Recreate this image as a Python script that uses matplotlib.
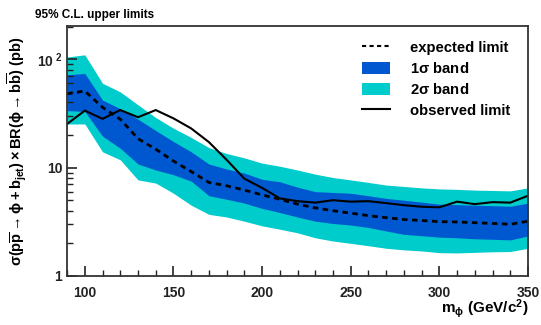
import numpy as np
import matplotlib
matplotlib.use('Agg')
import matplotlib.pyplot as plt
from matplotlib.ticker import FixedLocator, FixedFormatter, MultipleLocator, NullFormatter
from matplotlib.patches import Patch
from matplotlib.lines import Line2D

plt.rcParams['font.family'] = ['Liberation Sans', 'DejaVu Sans']
plt.rcParams['font.weight'] = 'bold'
plt.rcParams['mathtext.fontset'] = 'custom'
plt.rcParams['mathtext.rm'] = 'Liberation Sans:bold'
plt.rcParams['mathtext.it'] = 'Liberation Sans:bold'
plt.rcParams['mathtext.bf'] = 'Liberation Sans:bold'

# Higgs mass points (GeV/c^2)
mass = [90, 100, 110, 120, 130, 140, 150, 160, 170, 180, 190, 200, 210, 220,
        230, 240, 250, 260, 270, 280, 290, 300, 310, 320, 330, 340, 350]

expected = [48, 51, 36, 28, 18.5, 14.8, 11.5, 9.2, 7.3, 6.8, 6.2, 5.6, 5.1, 4.6,
            4.25, 4.0, 3.8, 3.6, 3.45, 3.32, 3.25, 3.17, 3.15, 3.1, 3.05, 3.0, 3.2]

observed = [25.3, 33.6, 28.2, 34, 29.2, 34, 28.5, 23, 17.2, 11.8, 7.9, 6.5, 5.2, 4.9,
            4.75, 5.0, 4.85, 4.9, 4.7, 4.5, 4.35, 4.3, 4.85, 4.6, 4.8, 4.75, 5.5]

sig1_up = [72, 74, 42, 35, 28, 22, 17.4, 14, 10.8, 9.7, 8.9, 7.8, 7.4, 6.6,
           6.0, 5.9, 5.8, 5.5, 5.2, 5.0, 4.8, 4.6, 4.55, 4.5, 4.45, 4.4, 4.7]
sig1_dn = [33.6, 33, 19.5, 15.1, 10.8, 9.5, 8.6, 7.5, 5.5, 5.1, 4.7, 4.2, 3.85, 3.5,
           3.2, 3.05, 2.95, 2.8, 2.6, 2.42, 2.35, 2.28, 2.25, 2.2, 2.18, 2.15, 2.34]
sig2_up = [105, 110, 60, 50, 38, 29, 23.1, 19, 15.3, 13.5, 12.3, 11, 10.3, 9.5,
           8.7, 8.1, 7.7, 7.3, 6.9, 6.7, 6.5, 6.36, 6.3, 6.2, 6.15, 6.1, 6.5]
sig2_dn = [25.3, 25.3, 14, 11.8, 7.7, 7.2, 5.8, 4.5, 3.7, 3.5, 3.2, 2.9, 2.7, 2.5,
           2.25, 2.1, 2.0, 1.9, 1.8, 1.74, 1.7, 1.64, 1.63, 1.65, 1.67, 1.68, 1.8]

c1 = '#0058d0'
c2 = '#00cccc'

fig = plt.figure(figsize=(5.41, 3.25), dpi=100)
ax = fig.add_axes([0.124, 0.151, 0.852, 0.769])

ax.fill_between(mass, sig2_dn, sig2_up, color=c2, lw=0)
ax.fill_between(mass, sig1_dn, sig1_up, color=c1, lw=0)
ax.plot(mass, expected, color='black', lw=2, ls=(0, (2, 1.6)))
ax.plot(mass, observed, color='black', lw=1.5)

ax.set_yscale('log')
ax.set_xlim(90, 350)
ax.set_ylim(1, 203)

ax.xaxis.set_major_locator(MultipleLocator(50))
ax.xaxis.set_minor_locator(MultipleLocator(10))
ax.yaxis.set_major_locator(FixedLocator([1, 10, 100]))
ax.yaxis.set_major_formatter(FixedFormatter(['1', '10', r'$10^{\ 2}$']))
ax.yaxis.set_minor_formatter(NullFormatter())
ax.tick_params(which='both', direction='in', labelsize=10, colors='#222222')
ax.tick_params(which='major', length=7, width=1.2)
ax.tick_params(which='minor', length=4, width=1.0)
ax.tick_params(axis='x', pad=7)
for s in ax.spines.values():
    s.set_linewidth(1.3)
    s.set_color('#333333')

ax.set_ylabel(r'$\sigma(p\overline{p}\rightarrow\phi+b_{jet})\times BR(\phi\rightarrow b\overline{b})$ (pb)',
              fontsize=10.5, fontweight='bold')
ax.yaxis.set_label_coords(-0.085, 0.5)
ax.set_xlabel(r'm$_{\phi}$ (GeV/c$^{2}$)', fontsize=11, fontweight='bold')
ax.xaxis.set_label_coords(1.0, -0.085)
ax.xaxis.label.set_horizontalalignment('right')
fig.text(0.065, 0.955, '95% C.L. upper limits', fontsize=8.5, fontweight='bold', va='center')

handles = [Line2D([], [], color='black', lw=1.5, ls=(0, (2, 1.6))),
           Patch(facecolor=c1), Patch(facecolor=c2),
           Line2D([], [], color='black', lw=1.5)]
labels = ['expected limit', r'1$\sigma$ band', r'2$\sigma$ band', 'observed limit']
ax.legend(handles, labels, loc='upper right', bbox_to_anchor=(0.99, 0.995), frameon=False,
          fontsize=10.7, handlelength=1.9, handleheight=0.9, labelspacing=0.42, handletextpad=1.3)

fig.savefig('out.png', dpi=100)
